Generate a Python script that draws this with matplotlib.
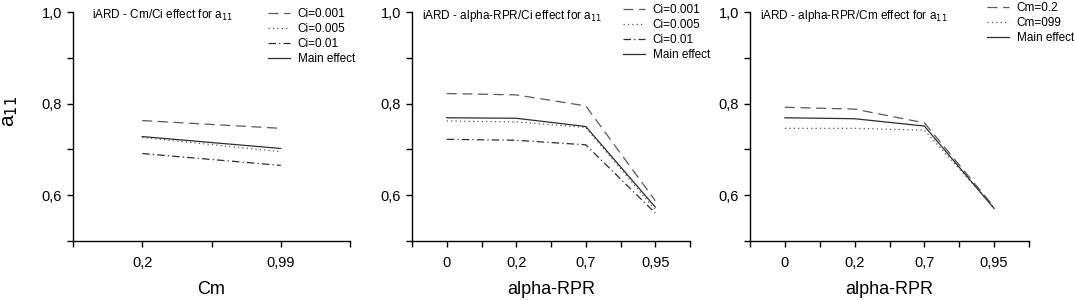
import numpy as np
import matplotlib.pyplot as plt
from matplotlib.ticker import FixedLocator, FuncFormatter

plt.rcParams['font.family'] = ['Liberation Sans', 'DejaVu Sans']

# panel 1: Cm / Ci
cm_labels = ['0,2', '0,99']
p1_ci0001 = [0.763, 0.746]
p1_ci0005 = [0.726, 0.695]
p1_ci001 = [0.691, 0.665]
p1_main = [0.728, 0.702]

# panel 2: alpha-RPR / Ci
rpr_labels = ['0', '0,2', '0,7', '0,95']
p2_ci0001 = [0.822, 0.819, 0.795, 0.588]
p2_ci0005 = [0.762, 0.760, 0.748, 0.568]
p2_ci001 = [0.722, 0.720, 0.710, 0.561]
p2_main = [0.769, 0.768, 0.750, 0.574]

# panel 3: alpha-RPR / Cm
p3_cm02 = [0.792, 0.788, 0.758, 0.574]
p3_cm099 = [0.746, 0.746, 0.742, 0.573]
p3_main = [0.769, 0.767, 0.751, 0.571]

W, H = 1074, 300
fig = plt.figure(figsize=(W / 100, H / 100), dpi=100)


def add_ax(l, r, t=12, b=241):
    return fig.add_axes([l / W, 1 - b / H, (r - l) / W, (b - t) / H])


dash = (0, (8, 4.5))
dot = (0, (1, 2.5))
dashdot = (0, (6, 2.5, 1, 2.5))
gray = '#5a5a5a'
dark = '#2e2e2e'
comma = FuncFormatter(lambda v, p: ('%.1f' % v).replace('.', ','))


def style(ax, labels, xlabel, title, tx):
    n = len(labels)
    ax.set_xlim(-0.5, n - 0.5)
    ax.set_ylim(0.5, 1.0)
    ax.xaxis.set_major_locator(FixedLocator(range(n)))
    ax.xaxis.set_minor_locator(FixedLocator(np.arange(-0.5, n, 1.0)))
    ax.set_xticklabels(labels)
    ax.yaxis.set_major_locator(FixedLocator([0.6, 0.8, 1.0]))
    ax.yaxis.set_minor_locator(FixedLocator([0.5, 0.7, 0.9]))
    ax.yaxis.set_major_formatter(comma)
    for s in ['top', 'right']:
        ax.spines[s].set_visible(False)
    for s in ['left', 'bottom']:
        ax.spines[s].set_linewidth(1.0)
    ax.tick_params(which='both', direction='out', length=4.5, width=1.0, labelsize=10.5)
    ax.tick_params(axis='x', pad=6)
    ax.tick_params(axis='y', pad=3.5)
    ax.set_xlabel(xlabel, fontsize=13, labelpad=8)
    ax.text(tx, 0.983, title, transform=ax.transAxes, fontsize=8.5, va='center', ha='left')


def legend(ax, x, y):
    ax.legend(loc='upper left', bbox_to_anchor=(x / W, 1 - y / H), bbox_transform=fig.transFigure,
              frameon=False, fontsize=8.5, handlelength=1.9, handletextpad=0.6, labelspacing=0.25,
              borderpad=0, borderaxespad=0)


ax1 = add_ax(73, 350)
x1 = np.arange(len(cm_labels))
ax1.plot(x1, p1_ci0001, ls=dash, color=gray, lw=0.9, label='Ci=0.001')
ax1.plot(x1, p1_ci0005, ls=dot, color=gray, lw=0.9, label='Ci=0.005')
ax1.plot(x1, p1_ci001, ls=dashdot, color=dark, lw=0.9, label='Ci=0.01')
ax1.plot(x1, p1_main, ls='-', color=dark, lw=0.9, label='Main effect')
style(ax1, cm_labels, 'Cm', 'iARD - Cm/Ci effect for a$_{11}$', 0.069)
legend(ax1, 268, 8)

ax2 = add_ax(412, 690)
x2 = np.arange(len(rpr_labels))
ax2.plot(x2, p2_ci0001, ls=dash, color=gray, lw=0.9, label='Ci=0.001')
ax2.plot(x2, p2_ci0005, ls=dot, color=gray, lw=0.9, label='Ci=0.005')
ax2.plot(x2, p2_ci001, ls=dashdot, color=dark, lw=0.9, label='Ci=0.01')
ax2.plot(x2, p2_main, ls='-', color=dark, lw=0.9, label='Main effect')
style(ax2, rpr_labels, 'alpha-RPR', 'iARD - alpha-RPR/Ci effect for a$_{11}$', 0.036)
legend(ax2, 623, 4)

ax3 = add_ax(750, 1029)
ax3.plot(x2, p3_cm02, ls=dash, color=gray, lw=0.9, label='Cm=0.2')
ax3.plot(x2, p3_cm099, ls=dot, color=gray, lw=0.9, label='Cm=099')
ax3.plot(x2, p3_main, ls='-', color=dark, lw=0.9, label='Main effect')
style(ax3, rpr_labels, 'alpha-RPR', 'iARD - alpha-RPR/Cm effect for a$_{11}$', 0.036)
legend(ax3, 987, 2)

fig.text(10 / W, 1 - 112 / H, 'a$_{11}$', rotation=90, fontsize=15, ha='center', va='center')

fig.savefig('out.png', dpi=100)
